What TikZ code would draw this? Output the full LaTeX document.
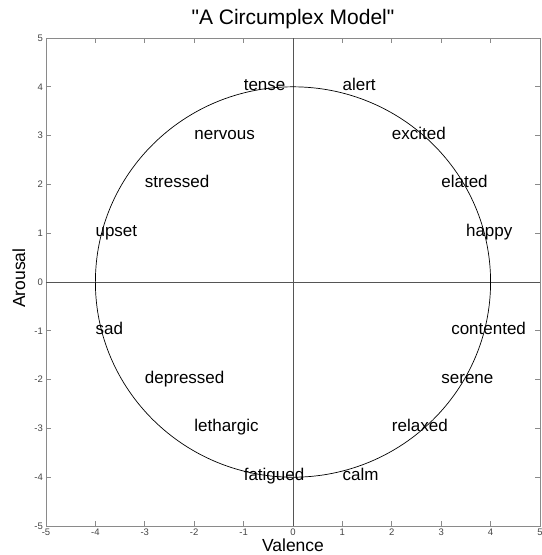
\documentclass[tikz,border=0pt]{standalone}
\usepackage{fontspec}
\setmainfont{Liberation Sans}[Ligatures=TeXOff]
\definecolor{boxgray}{HTML}{8a8a8a}
\definecolor{zerogray}{HTML}{555555}
\definecolor{ticktext}{HTML}{444444}

\begin{document}
\begin{tikzpicture}[x=49.4pt, y=48.8pt,
    emotion/.style={anchor=west, inner sep=0pt, text height=0.716em, text depth=0pt, font=\fontsize{17}{17}\selectfont},
    ticklabel/.style={inner sep=0pt, text=ticktext, font=\fontsize{9.5}{9.5}\selectfont},
    axislabel/.style={inner sep=0pt, text height=0.716em, text depth=0pt, font=\fontsize{17.5}{17.5}\selectfont}]
    \useasboundingbox (-5.931,-5.594) rectangle (5.040,5.779);
    % box and ticks
    \draw[boxgray, line width=0.8pt] (-5,-5) rectangle (5,5);
    \foreach \t in {-4,...,4} {
      \draw[boxgray, line width=0.8pt] (\t,-5) -- ++(0,5pt);
      \draw[boxgray, line width=0.8pt] (\t,5) -- ++(0,-5pt);
      \draw[boxgray, line width=0.8pt] (-5,\t) -- ++(5pt,0);
      \draw[boxgray, line width=0.8pt] (5,\t) -- ++(-5pt,0);
    }
    \foreach \t in {-5,...,5} {
      \node[ticklabel, anchor=north] (xt\t) at ([yshift=-3pt]\t,-5) {\t};
      \node[ticklabel, anchor=east] (yt\t) at ([xshift=-3pt]-5,\t) {\t};
    }
    % zero lines and circle
    \draw[zerogray, line width=0.7pt] (-5,0) -- (5,0);
    \draw[zerogray, line width=0.7pt] (0,-5) -- (0,5);
    \draw[line width=0.7pt] (0,0) ellipse [x radius=4, y radius=4];
    % emotion words
    \foreach \x/\y/\w in {-1/4/tense, 1/4/alert, -2/3/nervous, 2/3/excited,
        -3/2/stressed, 3/2/elated, -4/1/upset, 3.5/1/happy,
        -4/-1/sad, 3.2/-1/contented, -3/-2/depressed, 3/-2/serene,
        -2/-3/lethargic, 2/-3/relaxed, -1/-4/fatigued, 1/-4/calm} {
      \node[emotion] (\w) at (\x,\y) {\w};
    }
    % title and axis labels
    \node[axislabel, font=\fontsize{21}{21}\selectfont] (title) at (0,5.35) {"A Circumplex Model"};
    \node[axislabel] (xlabel) at (0,-5.45) {Valence};
    \node[axislabel, rotate=90] (ylabel) at (-5.495,0.08) {Arousal};
  \end{tikzpicture}
\end{document}
